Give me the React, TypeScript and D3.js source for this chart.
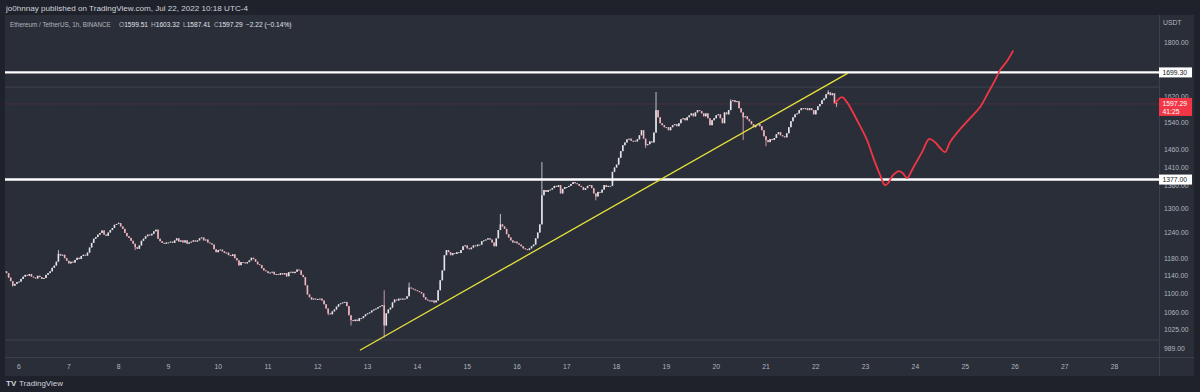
import React, { useEffect } from "react";
import * as d3 from "d3";

// ---- data (hourly closes, ETH/USDT 1h, first candle = Jul 5 17:00) ----
const firstHour = -7; // hours relative to Jul 6 00:00
const jul05 = [1150, 1146, 1136, 1128, 1118, 1122, 1126];
const jul06 = [1127, 1133, 1138, 1142, 1140, 1144, 1138, 1136, 1134, 1140, 1137, 1133, 1135, 1142, 1146, 1150, 1158, 1163, 1172, 1190, 1186, 1188, 1180, 1174];
const jul07 = [1168, 1172, 1170, 1176, 1181, 1178, 1185, 1188, 1186, 1193, 1205, 1216, 1226, 1230, 1236, 1240, 1246, 1236, 1233, 1241, 1247, 1252, 1260, 1262];
const jul08 = [1264, 1256, 1250, 1240, 1232, 1228, 1221, 1214, 1206, 1202, 1210, 1221, 1226, 1232, 1236, 1234, 1238, 1244, 1248, 1226, 1220, 1216, 1214, 1217];
const jul09 = [1217, 1219, 1216, 1222, 1227, 1219, 1222, 1217, 1222, 1214, 1217, 1219, 1222, 1219, 1222, 1227, 1229, 1222, 1224, 1217, 1215, 1212, 1201, 1194];
const jul10 = [1199, 1200, 1196, 1192, 1193, 1187, 1185, 1189, 1180, 1175, 1164, 1171, 1170, 1168, 1171, 1175, 1181, 1178, 1172, 1166, 1164, 1157, 1152, 1150];
const jul11 = [1146, 1147, 1149, 1143, 1144, 1142, 1146, 1143, 1146, 1139, 1148, 1149, 1146, 1149, 1154, 1152, 1142, 1137, 1119, 1099, 1093, 1088, 1090, 1088];
const jul12 = [1089, 1090, 1086, 1078, 1069, 1059, 1057, 1063, 1067, 1073, 1078, 1080, 1082, 1083, 1074, 1055, 1045, 1043, 1046, 1043, 1049, 1049, 1053, 1057];
const jul13 = [1059, 1061, 1065, 1067, 1069, 1072, 1074, 1076, 1034, 1059, 1067, 1071, 1082, 1088, 1086, 1090, 1088, 1090, 1090, 1095, 1114, 1112, 1110, 1108];
const jul14 = [1106, 1104, 1101, 1093, 1088, 1086, 1084, 1086, 1082, 1086, 1108, 1130, 1152, 1187, 1199, 1194, 1187, 1192, 1190, 1194, 1192, 1199, 1208, 1210];
const jul15 = [1203, 1201, 1205, 1210, 1208, 1212, 1212, 1220, 1222, 1224, 1227, 1224, 1217, 1208, 1227, 1247, 1261, 1256, 1250, 1237, 1229, 1222, 1217, 1219];
const jul16 = [1215, 1212, 1208, 1203, 1201, 1199, 1203, 1208, 1212, 1227, 1241, 1261, 1335, 1349, 1344, 1349, 1350, 1354, 1360, 1357, 1362, 1340, 1352, 1357];
const jul17 = [1357, 1360, 1365, 1370, 1367, 1365, 1360, 1357, 1349, 1354, 1360, 1362, 1354, 1340, 1332, 1344, 1342, 1350, 1362, 1357, 1360, 1360, 1398, 1410];
const jul18 = [1418, 1437, 1456, 1473, 1481, 1490, 1492, 1486, 1486, 1484, 1490, 1502, 1517, 1492, 1473, 1476, 1484, 1481, 1510, 1578, 1556, 1538, 1532, 1526];
const jul19 = [1526, 1517, 1526, 1532, 1535, 1529, 1538, 1550, 1553, 1547, 1556, 1562, 1568, 1559, 1571, 1578, 1575, 1568, 1559, 1568, 1553, 1532, 1547, 1553];
const jul20 = [1562, 1565, 1553, 1538, 1571, 1565, 1578, 1606, 1609, 1603, 1606, 1584, 1571, 1556, 1559, 1550, 1544, 1535, 1526, 1532, 1535, 1529, 1517, 1499];
const jul21 = [1488, 1482, 1491, 1488, 1494, 1505, 1511, 1502, 1499, 1496, 1508, 1526, 1544, 1556, 1565, 1568, 1578, 1584, 1581, 1584, 1578, 1584, 1578, 1565];
const jul22 = [1578, 1590, 1597, 1609, 1615, 1628, 1634, 1625, 1631, 1599.51, 1597.29];

// notable wick extremes: [hour, price]
const highWicks = [[19, 1199], [48, 1266], [176, 1108], [188, 1125], [232, 1287], [252, 1425], [307, 1635], [343, 1612], [390, 1641], [394, 1603.32]];
const lowWicks = [[-3, 1116], [56, 1199], [106, 1162], [129, 1137], [149, 1055], [160, 1034], [176, 1010], [200, 1080], [278, 1322], [302, 1465], [349, 1488], [360, 1470], [394, 1587.41]];

// drawings
const levelPrices = [1699.3, 1377];
const levelLabels = ["1699.30", "1377.00"];
const guidePrices = [1651, 1005];
const trendHours = [164.3, 399.5];
const trendPrices = [985, 1697];
const forecastHours = [393.3, 396.6, 399.0, 403.9, 408.7, 411.6, 415.0, 417.3, 418.8, 421.2, 424.1, 426.0, 428.0, 430.8, 435.2, 438.6, 441.4, 443.9, 446.3, 448.7, 453.5, 458.3, 463.1, 467.0, 470.4, 472.8, 476.1, 479.0];
const forecastPrices = [1600, 1619, 1603, 1547, 1488, 1439, 1389, 1362, 1367, 1389, 1400, 1394, 1381, 1408, 1453, 1491, 1482, 1465, 1453, 1482, 1520, 1553, 1587, 1632, 1674, 1707, 1737, 1772];

// axes
const dayTicks = [6, 7, 8, 9, 10, 11, 12, 13, 14, 15, 16, 17, 18, 19, 20, 21, 22, 23, 24, 25, 26, 27, 28];
const priceTicks = [1800, 1620, 1540, 1460, 1410, 1360, 1300, 1240, 1180, 1140, 1100, 1060, 1025, 989];
const lastPrice = 1597.29;
const countdown = "41:25";

const headerTitle = "jo0hnnay published on TradingView.com, Jul 22, 2022 10:18 UTC-4";
const symbolText = "Ethereum / TetherUS, 1h, BINANCE";
const ohlcLabels = ["O", "H", "L", "C"];
const ohlcValues = ["1599.51", "1603.32", "1587.41", "1597.29"];
const changeText = "\u22122.22 (\u22120.14%)";

const W = 1200;
const H = 392;
const PL = 5, PR = 1159, PT = 15, PB = 357, AXR = 1194, TB = 376;

const BG_OUT = "#1f222b";
const BG_PANEL = "#2a2e39";
const GRID = "#3c404b";
const TXT = "#b2b5be";
const UP = "#e3e4e8";
const DOWN = "#f0b4be";
const RED = "#f23645";
const YEL = "#e8e23a";
const FONT = "'Liberation Sans', Arial, sans-serif";

export default function App() {
  useEffect(() => {
    document.body.style.margin = "0";
  }, []);

  const closes = [...jul05, ...jul06, ...jul07, ...jul08, ...jul09, ...jul10, ...jul11, ...jul12, ...jul13, ...jul14, ...jul15, ...jul16, ...jul17, ...jul18, ...jul19, ...jul20, ...jul21, ...jul22];
  const hiMap = new Map(highWicks.map(([h, p]) => [h, p]));
  const loMap = new Map(lowWicks.map(([h, p]) => [h, p]));
  const candles = closes.map((c, i) => {
    const hour = firstHour + i;
    const o = i === 0 ? c : closes[i - 1];
    const hi = Math.max(o, c, hiMap.get(hour) ?? -Infinity);
    const lo = Math.min(o, c, loMap.get(hour) ?? Infinity);
    return { hour, o, c, hi, lo };
  });

  const x = d3.scaleLinear().domain([-6.75, 549.4]).range([PL, PR]);
  const y = d3.scaleLog().domain([972, 1902]).range([PB, PT]);

  const forecastLine = d3
    .line<number>()
    .x((_, i) => x(forecastHours[i]))
    .y((p) => y(p))
    .curve(d3.curveCatmullRom.alpha(0.5))(forecastPrices);

  const bw = 1.6;
  const ohlcX = [119, 151, 183, 214];

  return (
    <svg
      width={W}
      height={H}
      style={{ position: "absolute", left: 0, top: 0, display: "block" }}
      fontFamily={FONT}
    >
      <rect x={0} y={0} width={W} height={H} fill={BG_OUT} />
      <rect x={PL} y={PT} width={AXR - PL} height={TB - PT} fill={BG_PANEL} />
      <defs>
        <clipPath id="plot">
          <rect x={PL} y={PT} width={PR - PL} height={PB - PT} />
        </clipPath>
      </defs>

      {/* header */}
      <text x={6} y={11} fontSize={8.1} fill="#d1d4dc">{headerTitle}</text>
      <text x={10} y={26.5} fontSize={6.3} fill={TXT}>{symbolText}</text>
      {ohlcLabels.map((l, i) => (
        <text key={l} x={ohlcX[i]} y={26.5} fontSize={6.6} fill={TXT}>
          {l}
          <tspan fill="#e0e3eb">{ohlcValues[i]}</tspan>
        </text>
      ))}
      <text x={246} y={26.5} fontSize={6.6} fill="#e0e3eb">{changeText}</text>

      {/* axis borders */}
      <line x1={PR + 0.5} x2={PR + 0.5} y1={PT} y2={TB} stroke={GRID} />
      <line x1={PL} x2={AXR} y1={PB + 0.5} y2={PB + 0.5} stroke={GRID} />

      <g clipPath="url(#plot)">
        {guidePrices.map((p) => (
          <line key={p} x1={PL} x2={PR} y1={y(p)} y2={y(p)} stroke="#454955" strokeWidth={0.8} />
        ))}
        <line x1={PL} x2={PR} y1={y(lastPrice)} y2={y(lastPrice)} stroke={RED} strokeOpacity={0.45} strokeWidth={0.8} strokeDasharray="1 1.5" />

        {candles.map((d) => {
          const cx = x(d.hour);
          const up = d.c >= d.o;
          const col = up ? UP : DOWN;
          const top = y(Math.max(d.o, d.c));
          const bot = y(Math.min(d.o, d.c));
          return (
            <g key={d.hour}>
              <line x1={cx} x2={cx} y1={y(d.hi)} y2={y(d.lo)} stroke={col} strokeWidth={0.8} />
              <rect x={cx - bw / 2} y={top} width={bw} height={Math.max(0.9, bot - top)} fill={col} />
            </g>
          );
        })}

        {levelPrices.map((p) => (
          <line key={p} x1={PL} x2={PR} y1={y(p)} y2={y(p)} stroke="#ffffff" strokeWidth={2.4} />
        ))}

        <line
          x1={x(trendHours[0])}
          y1={y(trendPrices[0])}
          x2={x(trendHours[1])}
          y2={y(trendPrices[1])}
          stroke={YEL}
          strokeWidth={1.3}
        />
        <path d={forecastLine ?? ""} fill="none" stroke={RED} strokeWidth={1.8} strokeLinejoin="round" strokeLinecap="round" />
      </g>

      {/* price axis */}
      <text x={1163} y={25} fontSize={6.8} fill={TXT}>USDT</text>
      {priceTicks.map((p) => (
        <text key={p} x={1164} y={y(p)} dy="0.35em" fontSize={6.8} fill={TXT}>
          {p.toFixed(2)}
        </text>
      ))}
      {levelPrices.map((p, i) => (
        <g key={p}>
          <rect x={PR} y={y(p) - 5} width={33} height={10} fill="#ffffff" />
          <text x={1162.5} y={y(p)} dy="0.35em" fontSize={6.8} fill="#131722">
            {levelLabels[i]}
          </text>
        </g>
      ))}
      <rect x={PR} y={y(lastPrice) - 6} width={33} height={18} fill={RED} />
      <text x={1162.5} y={y(lastPrice)} dy="0.35em" fontSize={6.8} fill="#ffffff">
        {lastPrice.toFixed(2)}
      </text>
      <text x={1162.5} y={y(lastPrice) + 8} dy="0.35em" fontSize={6.8} fill="#ffffff">
        {countdown}
      </text>

      {/* time axis */}
      {dayTicks.map((d) => (
        <text key={d} x={x((d - 6) * 24)} y={367} dy="0.35em" fontSize={6.8} fill={TXT} textAnchor="middle">
          {d}
        </text>
      ))}

      {/* footer */}
      <text x={6} y={386} fontSize={8} fontWeight="bold" fill="#d1d4dc">TV</text>
      <text x={19} y={386} fontSize={8} fill="#d1d4dc">TradingView</text>
    </svg>
  );
}
